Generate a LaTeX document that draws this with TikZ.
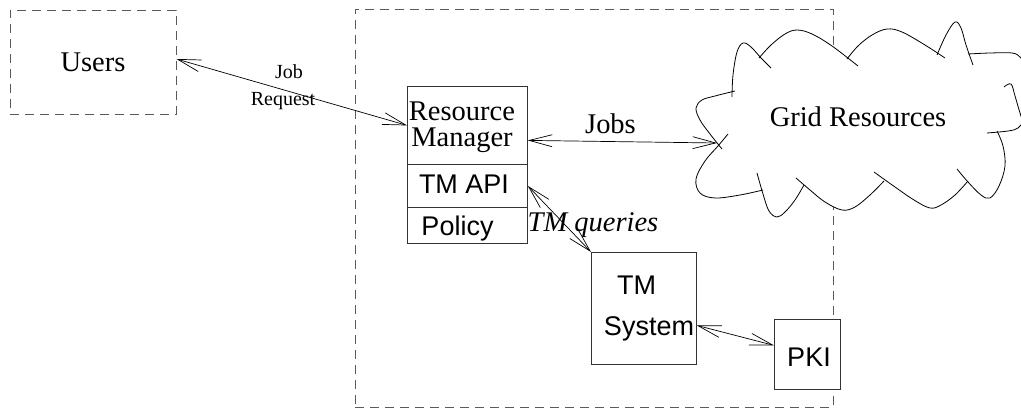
\documentclass[tikz,border=0pt]{standalone}
\usepackage{fontspec}
\setmainfont{Liberation Serif}
\newfontfamily\hsans{Liberation Sans}
\usetikzlibrary{arrows.meta}
\begin{document}
\begin{tikzpicture}[x=1pt,y=-1pt,
  dashbox/.style={draw=black!65, line width=0.9pt, dash pattern=on 9pt off 6pt, inner sep=0pt},
  solidbox/.style={draw=black!80, fill=white, line width=0.8pt, inner sep=0pt, anchor=north west},
  bigserif/.style={font=\fontsize{28.5}{26}\selectfont},
  bigsans/.style={font=\hsans\fontsize{27}{27}\selectfont},
  smallserif/.style={font=\fontsize{20}{20}\selectfont},
  conn/.style={line width=0.7pt, {Straight Barb[length=23pt,width=12pt]}-{Straight Barb[length=23pt,width=12pt]}},
  cloudline/.style={line width=0.8pt},
  txt/.style={inner sep=0pt, anchor=base}]
\useasboundingbox (0,0) rectangle (1021,409);
\clip (0,0) rectangle (1021,409);
% containers
\node[dashbox, minimum width=166pt, minimum height=104pt, bigserif] (users) at (93,62) {Users};
\node[dashbox, minimum width=478pt, minimum height=398pt] (sys) at (594,208) {};
% boxes
\node[solidbox, minimum width=120pt, minimum height=78pt] (rm) at (407,86) {};
\node[solidbox, minimum width=120pt, minimum height=43pt] (api) at (407,164) {};
\node[solidbox, minimum width=120pt, minimum height=36pt] (pol) at (407,207) {};
\node[solidbox, minimum width=105pt, minimum height=112pt] (tms) at (591,252) {};
\node[solidbox, minimum width=66pt, minimum height=70pt] (pki) at (774,319) {};
% cloud
\fill[white] plot[smooth cycle, tension=0.5] coordinates {(718,143) (700,115) (712,97) (733,91) (738,50) (743,44) (760,57) (797,31) (810,33) (830,45) (852,62) (887,30) (925,45) (941,56) (955,23) (970,55) (1021,53) (1021,200) (990,198) (963,175) (930,207) (879,177) (855,207) (842,210) (825,202) (800,182) (777,216) (760,182) (715,198) (697,180) (710,160)};
\begin{scope}[cloudline]
\draw plot[smooth, tension=0.6] coordinates {(722,149) (710,134) (700,120) (696,108) (702,100) (715,96) (735,91)};
\draw plot[smooth, tension=0.6] coordinates {(732,97) (733,75) (737,52) (743,43) (751,47) (761,58) (771,68)};
\draw plot[smooth, tension=0.6] coordinates {(759,58) (771,45) (785,34) (797,30) (812,34) (832,46) (858,66)};
\draw plot[smooth, tension=0.6] coordinates {(847,59) (858,46) (872,35) (887,29) (902,32) (925,45) (945,58)};
\draw plot[smooth, tension=0.6] coordinates {(937,55) (946,35) (955,22) (961,28) (966,45) (973,65)};
\draw plot[smooth, tension=0.6] coordinates {(968,54) (990,53) (1012,53) (1020,57) (1025,65)};
\draw plot[smooth, tension=0.6] coordinates {(1004,87) (1011,84) (1015,96) (1020,113) (1024,125)};
\draw plot[smooth, tension=0.6] coordinates {(1025,119) (1018,128) (1008,131) (987,133)};
\draw plot[smooth, tension=0.6] coordinates {(997,131) (1003,146) (1005,166) (999,186) (990,198) (981,195) (968,182) (957,169)};
\draw plot[smooth, tension=0.6] coordinates {(968,181) (955,195) (941,205) (930,208) (914,200) (895,187) (874,172)};
\draw plot[smooth, tension=0.6] coordinates {(884,181) (870,195) (855,207) (842,210) (825,202) (810,190) (796,178)};
\draw plot[smooth, tension=0.6] coordinates {(804,185) (795,200) (785,212) (777,217) (769,211) (763,194) (757,173)};
\draw plot[smooth, tension=0.6] coordinates {(763,190) (740,195) (715,198) (700,193) (696,179) (705,161) (718,146) (728,134)};
\end{scope}
\coordinate (gridtip) at (717,143);
% texts
\node[txt, bigserif] (rmtxt1) at (462,121) {Resource};
\node[txt, bigserif] (rmtxt2) at (462,147) {Manager};
\node[txt, bigsans] (apitxt) at (464,194) {TM API};
\node[txt, bigsans] (poltxt) at (457.5,236) {Policy};
\node[txt, bigserif] (jobs) at (610.5,134) {Jobs};
\node[txt, bigserif] (grid) at (858,127) {Grid Resources};
\node[txt, font=\itshape\fontsize{28.5}{28}\selectfont] (tmq) at (593,232) {TM queries};
\node[txt, bigsans] (tm1) at (636.5,294) {TM};
\node[txt, bigsans] (tm2) at (649,335) {System};
\node[txt, bigsans] (pkitxt) at (809,366) {PKI};
\node[txt, smallserif] (job) at (289,79) {Job};
\node[txt, smallserif] (req) at (283,106) {Request};
% connectors
\draw[conn] ([yshift=3pt]users.east) -- (rm.west);
\draw[conn] ([yshift=-15pt]rm.east) -- (gridtip);
\draw[conn] (api.east) -- (tms.north west);
\draw[conn] ([yshift=-17pt]tms.east) -- ([yshift=9pt]pki.west);
\end{tikzpicture}
\end{document}
